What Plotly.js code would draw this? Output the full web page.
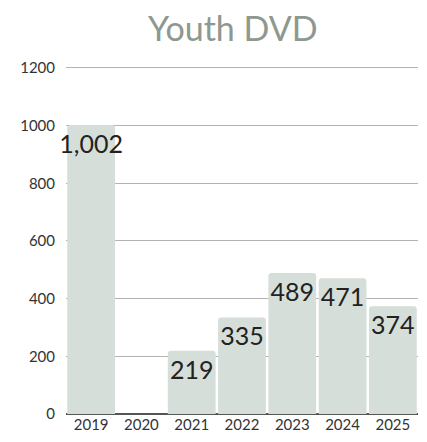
<!DOCTYPE html>
<html>
<head>
<meta charset="utf-8">
<script src="https://cdn.plot.ly/plotly-3.0.1.min.js"></script>
<style>html,body{margin:0;padding:0;background:#fff;}#chart{width:427px;height:442px;}</style>
</head>
<body>
<div id="chart"></div>
<script>
const years = ['2019','2020','2021','2022','2023','2024','2025'];
const values = [1002, 0, 219, 335, 489, 471, 374];
const yTicks = [0, 200, 400, 600, 800, 1000, 1200];

const labels = values.map(v => v === 0 ? '' : v.toLocaleString('en-US'));

const trace = {
  type: 'bar',
  x: years,
  y: values,
  text: labels,
  textposition: 'inside',
  insidetextanchor: 'end',
  textangle: 0,
  constraintext: 'none',
  cliponaxis: false,
  textfont: {family: 'Lato, sans-serif', size: 25, color: '#222222'},
  marker: {color: '#d5ded8', cornerradius: 3},
  hoverinfo: 'none'
};

const layout = {
  width: 427,
  height: 442,
  margin: {l: 66, r: 9, t: 65, b: 28},
  paper_bgcolor: '#ffffff',
  plot_bgcolor: '#ffffff',
  bargap: 0.05,
  showlegend: false,
  title: {
    text: 'Youth DVD',
    font: {family: 'Lato, sans-serif', size: 34, color: '#8d998f'},
    x: 0.545, xanchor: 'center',
    y: 0.935, yanchor: 'middle'
  },
  xaxis: {
    type: 'category',
    tickfont: {family: 'Lato, sans-serif', size: 15, color: '#333333'},
    showgrid: false,
    showline: false,
    ticks: '',
    ticklen: 0
  },
  yaxis: {
    range: [0, 1210],
    tickvals: yTicks,
    ticktext: yTicks.map(String),
    tickfont: {family: 'Lato, sans-serif', size: 15, color: '#333333'},
    gridcolor: '#b3b3b3',
    gridwidth: 1,
    zeroline: true,
    zerolinecolor: '#555555',
    zerolinewidth: 1.5,
    showline: false,
    ticks: '',
    ticklabelstandoff: 10
  }
};

Plotly.newPlot('chart', [trace], layout, {displayModeBar: false, staticPlot: true});
</script>
</body>
</html>
